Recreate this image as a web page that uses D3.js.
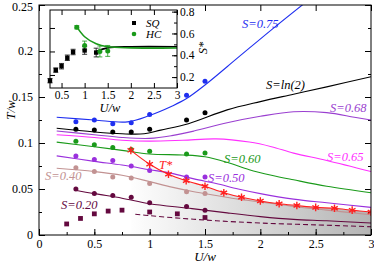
<!DOCTYPE html>
<html>
<head>
<meta charset="utf-8">
<script src="https://cdn.jsdelivr.net/npm/d3@7"></script>
<style>
  body { margin: 0; background: #fff; }
</style>
</head>
<body>
<div id="chart"></div>
<script>

// ---- data ----
var dotX = [1/3, 1/2, 2/3, 5/6, 1, 4/3, 3/2];   // U/w of the simulation points

var dots075 = [0.123, 0.125, 0.121, 0.122, 0.131, 0.152, 0.167],
  dotsLn2 = [0.115, 0.114, 0.112, 0.112, 0.115, 0.125, 0.133],
  dots060 = [0.102, 0.098, 0.095, 0.093, 0.091, 0.088, 0.089],
  dots050 = [0.086, 0.082, 0.081, 0.075, 0.070, 0.063, 0.063],
  dots040 = [0.073, 0.069, 0.063, 0.062, 0.056, 0.047, 0.045],
  dots020 = [0.050, 0.045, 0.043, 0.041, 0.035, 0.031, 0.027];

var sqX = [0.25, 0.375, 0.5, 0.625, 0.75, 1.0, 1.25, 1.5],
  sqY = [0.012, 0.018, 0.023, 0.026, 0.027, 0.025, 0.023, 0.019];

// isentropes (x, T/w)
var line075 = [[0.16,0.128],[0.5,0.125],[0.8,0.123],[1.0,0.130],[1.2,0.140],[1.33,0.148],[1.5,0.163],[1.8,0.193],[2.1,0.223],[2.4,0.252]],
  lineLn2 = [[0.16,0.116],[0.5,0.112],[0.75,0.110],[0.95,0.110],[1.1,0.114],[1.35,0.121],[1.7,0.136],[2.0,0.145],[2.3,0.153],[2.6,0.161],[3.0,0.172]],
  line068 = [[0.16,0.113],[0.5,0.109],[0.75,0.106],[1.0,0.105],[1.2,0.108],[1.4,0.113],[1.7,0.122],[2.0,0.129],[2.3,0.134],[2.6,0.133],[2.85,0.128],[3.0,0.125]],
  line065 = [[0.16,0.109],[0.5,0.106],[0.75,0.103],[1.0,0.102],[1.3,0.103],[1.6,0.1045],[1.9,0.101],[2.1,0.096],[2.3,0.089],[2.6,0.081],[3.0,0.069]],
  line060 = [[0.16,0.101],[0.5,0.096],[0.75,0.092],[1.0,0.088],[1.3,0.087],[1.5,0.085],[1.7,0.079],[1.9,0.071],[2.1,0.065],[2.3,0.060],[2.6,0.053],[3.0,0.046]],
  line050 = [[0.16,0.086],[0.5,0.080],[0.75,0.076],[1.0,0.071],[1.2,0.067],[1.4,0.061],[1.6,0.056],[1.8,0.050],[2.0,0.045],[2.3,0.039],[2.6,0.035],[3.0,0.030]],
  line040 = [[0.16,0.0725],[0.5,0.069],[0.75,0.065],[1.0,0.058],[1.2,0.052],[1.4,0.047],[1.6,0.043],[1.8,0.039],[2.0,0.036],[2.3,0.031],[2.6,0.027],[3.0,0.022]],
  line020 = [[0.32,0.049],[0.5,0.045],[0.75,0.040],[1.0,0.034],[1.36,0.029],[1.7,0.024],[2.0,0.020],[2.3,0.017],[2.6,0.0155],[3.0,0.013]],
  dash020 = [[0.87,0.0225],[1.0,0.021],[1.3,0.018],[1.6,0.0155],[2.0,0.013],[2.5,0.011],[3.0,0.009]];

var tStarX = [0.83, 1.0, 1.17, 1.33, 1.5, 1.67, 1.83, 2.0, 2.17, 2.33, 2.5, 2.67, 2.83, 3.0],
  tStarY = [0.092, 0.077, 0.066, 0.059, 0.053, 0.046, 0.041, 0.037, 0.034, 0.032, 0.030, 0.029, 0.027, 0.025];

// inset: S* vs U/w
var sqInX = [0.25, 0.375, 0.5, 0.625, 0.75, 1.0, 1.25],
  sqInY = [0.167, 0.264, 0.300, 0.377, 0.430, 0.444, 0.425],
  sqInErr = [0.02, 0.02, 0.025, 0.025, 0.025, 0.035, 0.04];
var hcInX = [0.83, 1.0, 1.33, 1.5],
  hcInY = [0.657, 0.490, 0.435, 0.440],
  hcInErr = [0.015, 0.04, 0.05, 0.05];
var sqInLine = [[1.25,0.435],[1.5,0.468],[2.0,0.478],[3.0,0.478]],
  hcInLine = [[0.83,0.66],[1.0,0.57],[1.25,0.505],[1.5,0.478],[2.0,0.468],[3.0,0.466]];

var xTicks = [0, 0.5, 1, 1.5, 2, 2.5, 3],
  yTicks = [0, 0.05, 0.1, 0.15, 0.2, 0.25],
  inXTicks = [0.5, 1, 1.5, 2, 2.5, 3],
  inYTicks = [0.2, 0.4, 0.6, 0.8];

// colours
var cBlue = "#1f2ff0", cBlack = "#000000", c068 = "#9a3fd0", c065 = "#ff30ff",
  c060 = "#1a9a1a", c050 = "#9a30dd", c040 = "#c29292", c020 = "#64093f", cRed = "#ff2020";

// pick the first serif face that is really installed
var pickSerif = function () {
  var cands = ["Liberation Serif", "Times New Roman", "Tinos", "Nimbus Roman", "DejaVu Serif"];
  var ctx = document.createElement("canvas").getContext("2d");
  var probe = "0.25 S=ln(2) HQwi";
  ctx.font = "40px monospace";
  var base = ctx.measureText(probe).width;
  for (ff in cands) {
    ctx.font = "40px '" + cands[ff] + "', monospace";
    if (Math.abs(ctx.measureText(probe).width - base) > 0.5) { return "'" + cands[ff] + "', serif"; }
  }
  return "serif";
}
var serif = pickSerif();

var W = 374, H = 263;
var svg = d3.select("#chart").append("svg")
  .attr("width", W)
  .attr("height", H);

var x = d3.scaleLinear().domain([0, 3]).range([39, 371]);
var y = d3.scaleLinear().domain([0, 0.25]).range([235, 5]);

// shaded region below T*
var grad = svg.append("defs").append("linearGradient")
  .attr("id", "shade")
  .attr("gradientUnits", "userSpaceOnUse")
  .attr("x1", x(0.8)).attr("x2", x(3)).attr("y1", 0).attr("y2", 0);
grad.append("stop").attr("offset", "0%").attr("stop-color", "#ffffff");
grad.append("stop").attr("offset", "100%").attr("stop-color", "#b4b4b4");

var tStar = tStarX.map(function(d, i) { return [d, tStarY[i]]; });
svg.append("path")
  .datum(tStar)
  .attr("fill", "url(#shade)")
  .attr("d", d3.area()
    .x(function(d) { return x(d[0]); })
    .y0(y(0))
    .y1(function(d) { return y(d[1]); }));

// axes with inward ticks
var xMinor = d3.range(0, 3.01, 0.25), yMinor = d3.range(0, 0.2501, 0.025);
svg.append("g").attr("transform", "translate(0," + y(0) + ")")
  .call(d3.axisBottom(x).tickValues(xMinor).tickSize(-3).tickFormat(""));
svg.append("g").attr("transform", "translate(0," + y(0) + ")")
  .call(d3.axisBottom(x).tickValues(xTicks).tickSize(-6).tickPadding(4).tickFormat(d3.format("")));
svg.append("g").attr("transform", "translate(0," + y(0.25) + ")")
  .call(d3.axisTop(x).tickValues(xTicks).tickSize(-6).tickFormat(""));
svg.append("g").attr("transform", "translate(" + x(0) + ",0)")
  .call(d3.axisLeft(y).tickValues(yMinor).tickSize(-3).tickFormat(""));
svg.append("g").attr("transform", "translate(" + x(0) + ",0)")
  .call(d3.axisLeft(y).tickValues(yTicks).tickSize(-6).tickPadding(6).tickFormat(d3.format("")));
svg.append("g").attr("transform", "translate(" + x(3) + ",0)")
  .call(d3.axisRight(y).tickValues(yMinor).tickSize(-3).tickFormat(""));
svg.append("g").attr("transform", "translate(" + x(3) + ",0)")
  .call(d3.axisRight(y).tickValues(yTicks).tickSize(-6).tickFormat(""));
svg.selectAll(".domain").remove();
svg.selectAll(".tick text").style("font-size", "12px").attr("fill", "#000");
svg.selectAll(".tick text").filter(function(d) { return d == 0.25; }).attr("dy", "0.45em");

// curves
var lineGen = d3.line()
  .x(function(d) { return x(d[0]); })
  .y(function(d) { return y(d[1]); })
  .curve(d3.curveCatmullRom);

var curves = [[line020, c020], [line040, c040], [line050, c050], [line060, c060],
  [line065, c065], [line068, c068], [lineLn2, cBlack], [line075, cBlue]];

var plotArea = svg.append("g").attr("clip-path", "url(#clipMain)");
svg.select("defs").append("clipPath").attr("id", "clipMain")
  .append("rect").attr("x", x(0)).attr("y", y(0.25)).attr("width", x(3) - x(0)).attr("height", y(0) - y(0.25));

for (cc in curves) {
  plotArea.append("path")
    .datum(curves[cc][0])
    .attr("fill", "none")
    .attr("stroke", curves[cc][1])
    .attr("stroke-width", 1.1)
    .attr("d", lineGen);
}
plotArea.append("path")
  .datum(dash020)
  .attr("fill", "none")
  .attr("stroke", c020)
  .attr("stroke-width", 1.1)
  .style("stroke-dasharray", ("5, 3"))
  .attr("d", lineGen);

// T* line
plotArea.append("path")
  .datum(tStar)
  .attr("fill", "none")
  .attr("stroke", cRed)
  .attr("stroke-width", 1.1)
  .attr("d", lineGen);

// dots
var dotSets = [[dots020, c020], [dots040, c040], [dots050, c050], [dots060, c060], [dotsLn2, cBlack], [dots075, cBlue]];
for (dd in dotSets) {
  plotArea.selectAll(null)
    .data(dotSets[dd][0])
    .enter().append("circle")
    .attr("cx", function(d, i) { return x(dotX[i]); })
    .attr("cy", function(d) { return y(d); })
    .attr("r", 2.5)
    .attr("fill", dotSets[dd][1]);
}
plotArea.selectAll(null)
  .data(sqY)
  .enter().append("rect")
  .attr("x", function(d, i) { return x(sqX[i]) - 2.4; })
  .attr("y", function(d) { return y(d) - 2.4; })
  .attr("width", 4.8).attr("height", 4.8)
  .attr("fill", c020);

// T* stars
plotArea.selectAll(null)
  .data(tStar)
  .enter().append("path")
  .attr("transform", function(d) { return "translate(" + x(d[0]) + "," + y(d[1]) + ")"; })
  .attr("d", d3.symbol().type(d3.symbolAsterisk).size(40))
  .attr("fill", "none")
  .attr("stroke", cRed)
  .attr("stroke-width", 1.4);

// frame
svg.append("rect")
  .attr("x", x(0)).attr("y", y(0.25))
  .attr("width", x(3) - x(0)).attr("height", y(0) - y(0.25))
  .attr("fill", "none").attr("stroke", "#000").attr("stroke-width", 1);

// curve labels
var labels = [
  ["S=0.75", 242, 28, cBlue], ["S=ln(2)", 266, 89, cBlack], ["S=0.68", 330, 112, c068],
  ["S=0.65", 327, 161, c065], ["S=0.60", 224, 163, c060], ["S=0.50", 208, 182, c050],
  ["S=0.40", 45, 180, c040], ["S=0.20", 61, 209, c020], ["T*", 159, 169, cRed]
];
svg.selectAll(null)
  .data(labels)
  .enter().append("text")
  .attr("x", function(d) { return d[1]; })
  .attr("y", function(d) { return d[2]; })
  .attr("fill", function(d) { return d[3]; })
  .style("font-size", "12.5px")
  .style("font-style", "italic")
  .text(function(d) { return d[0]; });

// axis titles
svg.append("text")
  .attr("text-anchor", "middle")
  .attr("x", 205).attr("y", 261)
  .style("font-size", "13px").style("font-style", "italic")
  .text("U/w");
svg.append("text")
  .attr("text-anchor", "middle")
  .attr("transform", "translate(15,110)rotate(-90)")
  .style("font-size", "13px").style("font-style", "italic")
  .text("T/w");

// ---- inset ----
var xi = d3.scaleLinear().domain([0.25, 3]).range([50, 177]);
var yi = d3.scaleLinear().domain([0.1, 0.815]).range([88, 10]);
var yiL = d3.scaleLinear().domain([0.089, 0.753]).range([88, 10]);

var inset = svg.append("g");
inset.append("rect")
  .attr("x", 50).attr("y", 10).attr("width", 127).attr("height", 78)
  .attr("fill", "#fff");

inset.append("g").attr("transform", "translate(0,88)")
  .call(d3.axisBottom(xi).tickValues(inXTicks).tickSize(-5).tickPadding(3).tickFormat(d3.format("")));
inset.append("g").attr("transform", "translate(0,10)")
  .call(d3.axisTop(xi).tickValues(inXTicks).tickSize(-5).tickFormat(""));
inset.append("g").attr("transform", "translate(177,0)")
  .call(d3.axisRight(yi).tickValues(d3.range(0.2, 0.81, 0.1)).tickSize(-3).tickFormat(""));
inset.append("g").attr("transform", "translate(177,0)")
  .call(d3.axisRight(yi).tickValues(inYTicks).tickSize(-5).tickPadding(3).tickFormat(d3.format("")));
inset.append("g").attr("transform", "translate(50,0)")
  .call(d3.axisLeft(yiL).tickValues([0.2, 0.4, 0.6]).tickSize(-5).tickFormat(""));
inset.selectAll(".domain").remove();
inset.selectAll(".tick text").style("font-size", "11.5px").attr("fill", "#000");

var lineIn = d3.line()
  .x(function(d) { return xi(d[0]); })
  .y(function(d) { return yi(d[1]); })
  .curve(d3.curveCatmullRom);

inset.append("path").datum(sqInLine)
  .attr("fill", "none").attr("stroke", "#000").attr("stroke-width", 1.6).attr("d", lineIn);
inset.append("path").datum(hcInLine)
  .attr("fill", "none").attr("stroke", c060).attr("stroke-width", 1.6).attr("d", lineIn);

var drawErr = function (xs, ys, es, col) {
  for (ii in xs) {
    var gx = xi(xs[ii]), top = yi(ys[ii] + es[ii]), bot = yi(ys[ii] - es[ii]);
    inset.append("path")
      .attr("d", "M" + gx + "," + top + "V" + bot + "M" + (gx - 2.5) + "," + top + "H" + (gx + 2.5) + "M" + (gx - 2.5) + "," + bot + "H" + (gx + 2.5))
      .attr("stroke", col).attr("stroke-width", 0.8).attr("fill", "none");
  }
}
drawErr(sqInX, sqInY, sqInErr, "#000");
drawErr(hcInX, hcInY, hcInErr, c060);

inset.selectAll(null)
  .data(sqInY)
  .enter().append("rect")
  .attr("x", function(d, i) { return xi(sqInX[i]) - 2.2; })
  .attr("y", function(d) { return yi(d) - 2.2; })
  .attr("width", 4.4).attr("height", 4.4)
  .attr("fill", "#000");
inset.selectAll(null)
  .data(hcInY)
  .enter().append("circle")
  .attr("cx", function(d, i) { return xi(hcInX[i]); })
  .attr("cy", function(d) { return yi(d); })
  .attr("r", 2.5)
  .attr("fill", c060);

// legend
inset.append("rect").attr("x", 132).attr("y", 21).attr("width", 4).attr("height", 4).attr("fill", "#000");
inset.append("circle").attr("cx", 134).attr("cy", 34).attr("r", 2.3).attr("fill", c060);
inset.append("text").attr("x", 146).attr("y", 27)
  .style("font-size", "11px").style("font-style", "italic").text("SQ");
inset.append("text").attr("x", 146).attr("y", 38)
  .style("font-size", "11px").style("font-style", "italic").text("HC");

inset.append("rect")
  .attr("x", 50).attr("y", 10).attr("width", 127).attr("height", 78)
  .attr("fill", "none").attr("stroke", "#000").attr("stroke-width", 1);

inset.append("text")
  .attr("text-anchor", "middle")
  .attr("x", 110).attr("y", 112)
  .style("font-size", "12.5px").style("font-style", "italic")
  .text("U/w");
inset.append("text")
  .attr("text-anchor", "middle")
  .attr("transform", "translate(207,48)rotate(-90)")
  .style("font-size", "12.5px").style("font-style", "italic")
  .text("S*");

// serif everywhere, overriding the axis default
svg.selectAll("g").attr("font-family", null);
svg.selectAll("text").style("font-family", serif);

</script>
</body>
</html>
